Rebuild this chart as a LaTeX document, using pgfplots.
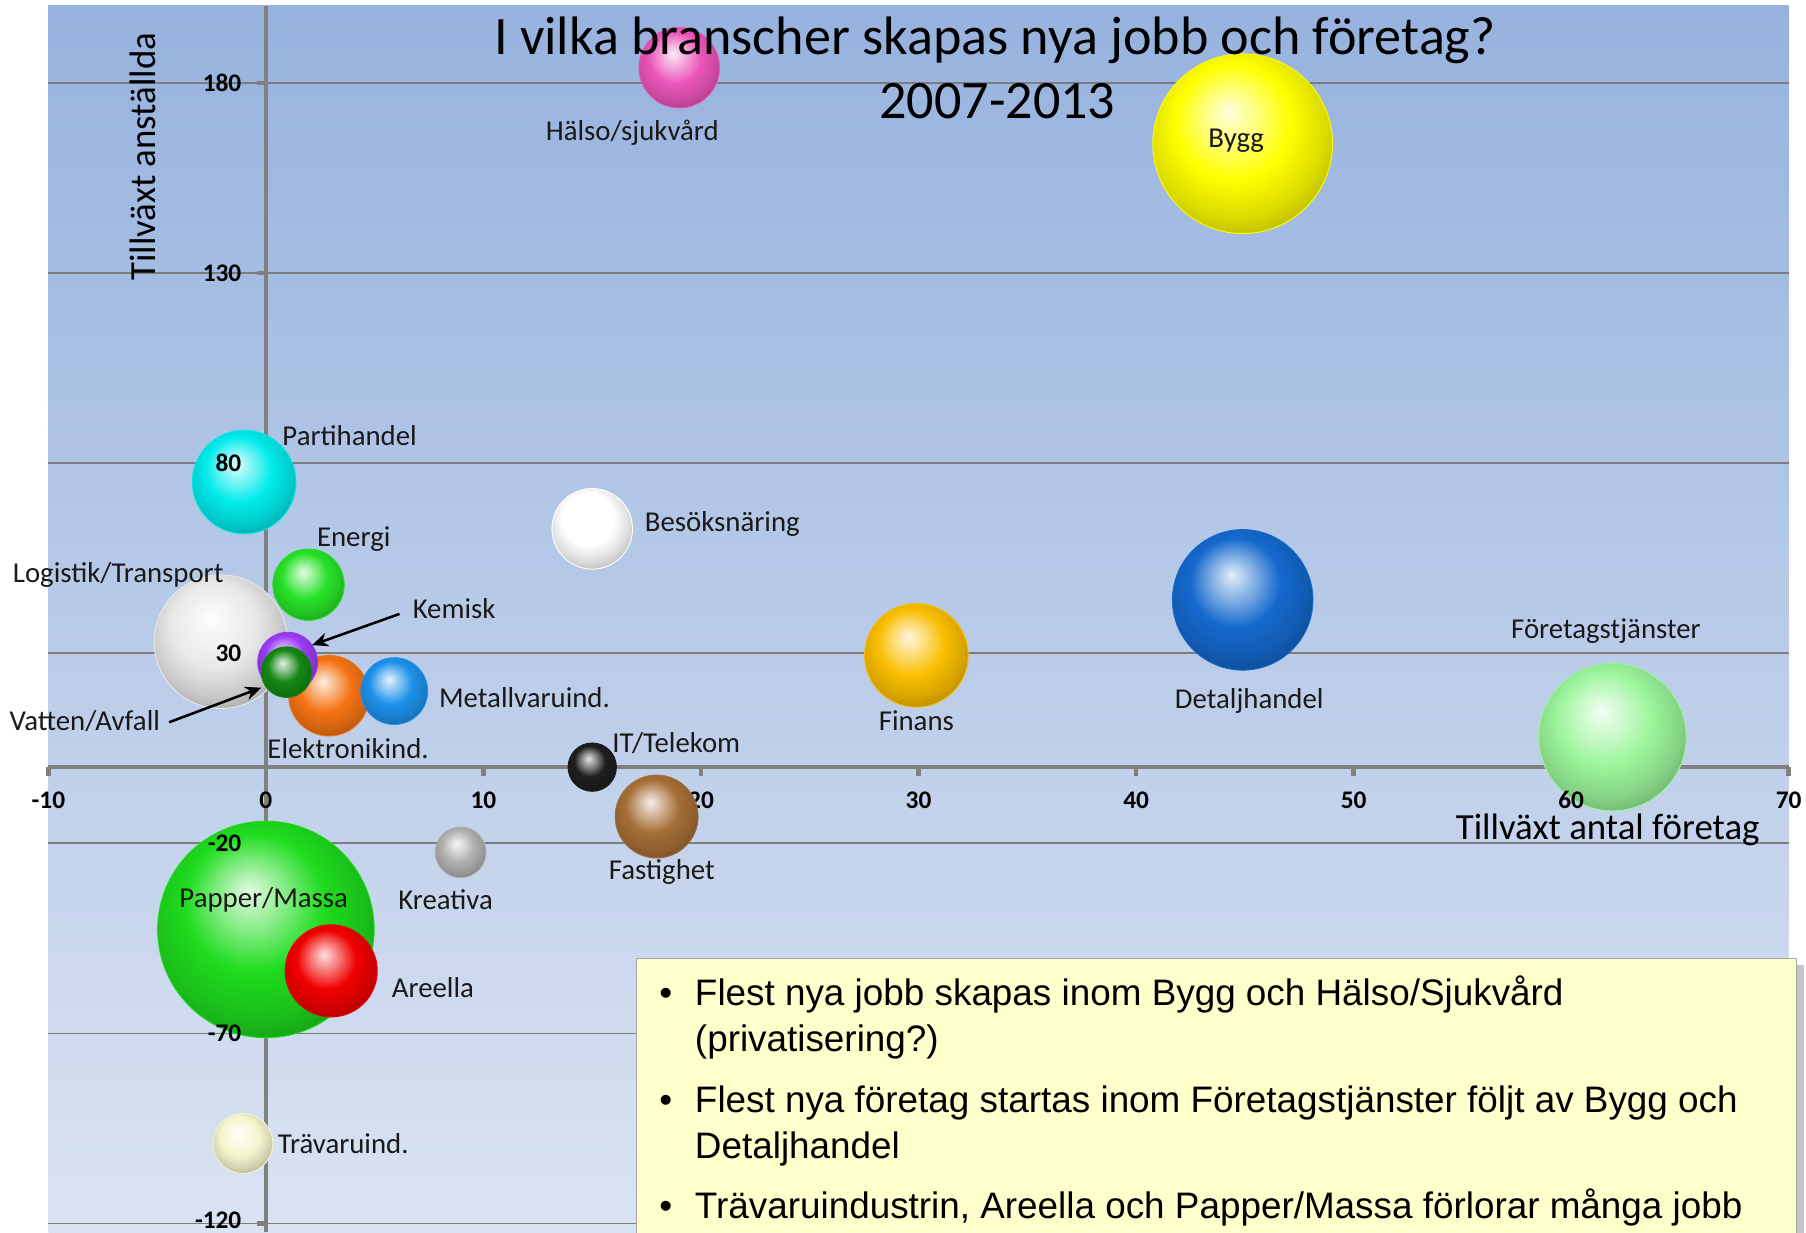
\documentclass[border=0pt]{standalone}
\usepackage{pgfplots}
\pgfplotsset{compat=1.18}
\usepackage{fontspec}
\setmainfont{Carlito}
\newfontfamily\arialf{Liberation Sans}
\usetikzlibrary{arrows.meta,shadows}

% glossy ball shading (closer to the spreadsheet bubbles)
\makeatletter
\pgfdeclareradialshading[tikz@ball]{ball}{\pgfqpoint{-4bp}{9bp}}{%
 color(0bp)=(tikz@ball!12!white);
 color(8bp)=(tikz@ball!55!white);
 color(16bp)=(tikz@ball);
 color(25bp)=(tikz@ball!86!black);
 color(33bp)=(tikz@ball!66!black);
 color(42bp)=(tikz@ball!52!black);
 color(50bp)=(tikz@ball!45!black)}
\makeatother

\definecolor{bgtop}{RGB}{150,178,222}
\definecolor{bgbot}{RGB}{218,227,242}
\definecolor{gridc}{RGB}{125,125,125}
\definecolor{axisc}{RGB}{128,128,128}
\definecolor{boxc}{RGB}{255,255,204}
\definecolor{cPapper}{RGB}{30,220,30}
\definecolor{cAreella}{RGB}{240,0,0}
\definecolor{cTra}{RGB}{245,245,205}
\definecolor{cKreativa}{RGB}{175,175,175}
\definecolor{cFast}{RGB}{165,110,55}
\definecolor{cIT}{RGB}{30,30,30}
\definecolor{cLog}{RGB}{232,232,232}
\definecolor{cElek}{RGB}{245,115,20}
\definecolor{cMetall}{RGB}{30,145,235}
\definecolor{cKemisk}{RGB}{155,60,245}
\definecolor{cVatten}{RGB}{20,135,20}
\definecolor{cEnergi}{RGB}{40,225,40}
\definecolor{cParti}{RGB}{0,235,235}
\definecolor{cBesok}{RGB}{255,255,255}
\definecolor{cFinans}{RGB}{250,190,0}
\definecolor{cDetalj}{RGB}{20,105,205}
\definecolor{cForetag}{RGB}{155,245,155}
\definecolor{cBygg}{RGB}{255,255,0}
\definecolor{cHalso}{RGB}{235,85,185}

% x, y, bubble radius (pt), colour
\newcommand{\bub}[4]{\addplot[only marks, mark=ball, mark size=#3pt, color=#4, mark options={ball color=#4, draw=none}] coordinates {(#1,#2)};}
\newcommand{\lbl}{\fontsize{12.5}{14}\selectfont}
\newcommand{\tkl}{\bfseries\fontsize{11}{13}\selectfont}

\begin{document}
\begin{tikzpicture}
\fill[white] (-21pt,0pt) rectangle (763pt,535pt);
\useasboundingbox (-21pt,0pt) rectangle (763pt,535pt);
\begin{axis}[
  at={(0pt,0pt)}, anchor=south west,
  scale only axis, width=755.5pt, height=532.5pt,
  xmin=-10, xmax=70, ymin=-122.4, ymax=200.3,
  axis lines=middle,
  axis line style={draw=axisc, line width=2pt, -},
  every inner x axis line/.append style={-},
  every inner y axis line/.append style={-},
  hide obscured x ticks=false,
  hide obscured y ticks=false,
  xtick={-10,0,10,20,30,40,50,60,70},
  xticklabels={-10,0,10,20,30,40,50,{},70},
  ytick={-120,-70,-20,30,80,130,180},
  yticklabels={},
  tick align=outside,
  major tick length=4pt,
  tick style={draw=axisc, line width=2pt},
  xticklabel style={font=\tkl, text=black, yshift=-3pt},
  ymajorgrids,
  grid style={draw=gridc, line width=0.6pt},
  axis background/.style={top color=bgtop, bottom color=bgbot},
  clip=false,
]
\bub{0}{-42.7}{47}{cPapper}
\bub{3.0}{-53.6}{20}{cAreella}
\bub{-1.06}{-99}{13}{cTra}
\bub{8.95}{-22.4}{11}{cKreativa}
\bub{17.96}{-13}{18}{cFast}
\bub{15.0}{0}{10.5}{cIT}
\bub{-2.07}{33}{29}{cLog}
\bub{2.9}{18.8}{17.5}{cElek}
\bub{5.9}{20}{14.5}{cMetall}
\bub{1.0}{27.6}{13}{cKemisk}
\bub{0.95}{25}{11}{cVatten}
\bub{1.96}{48}{15.5}{cEnergi}
\bub{-1.0}{75}{22.5}{cParti}
\bub{15.0}{62.7}{17.5}{cBesok}
\bub{29.9}{29.4}{22.5}{cFinans}
\bub{44.9}{44}{30.5}{cDetalj}
\bub{61.9}{7.9}{32}{cForetag}
\bub{44.9}{164}{39}{cBygg}
\bub{19.0}{184}{17.5}{cHalso}

% anchor points for the texts drawn above the bubbles
\coordinate (t180) at (axis cs:-1.11,180);
\coordinate (t130) at (axis cs:-1.11,130);
\coordinate (t80) at (axis cs:-1.11,80);
\coordinate (t30) at (axis cs:-1.11,30);
\coordinate (tm20) at (axis cs:-1.11,-20);
\coordinate (tm70) at (axis cs:-1.11,-70);
\coordinate (tm120) at (axis cs:-1.11,-119.2);
\coordinate (x60) at (axis cs:60,0);
\coordinate (lHalso) at (axis cs:16.84,167);
\coordinate (lBygg) at (axis cs:44.6,164.8);
\coordinate (lParti) at (axis cs:0.74,87.3);
\coordinate (lBesok) at (axis cs:17.4,63.9);
\coordinate (lEnergi) at (axis cs:2.33,60);
\coordinate (lLog) at (axis cs:-11.65,50.6);
\coordinate (lKemisk) at (axis cs:6.73,41.8);
\coordinate (lVatten) at (axis cs:-11.8,12.1);
\coordinate (lElek) at (axis cs:0.05,4.8);
\coordinate (lMetall) at (axis cs:7.94,18.2);
\coordinate (lIT) at (axis cs:15.9,6.4);
\coordinate (lFast) at (axis cs:18.2,-27.6);
\coordinate (lFinans) at (axis cs:29.9,12.1);
\coordinate (lDetalj) at (axis cs:45.2,17.3);
\coordinate (lForetag) at (axis cs:61.6,35.8);
\coordinate (lKreativa) at (axis cs:8.26,-34.8);
\coordinate (lPapper) at (axis cs:-0.1,-34.8);
\coordinate (lAreella) at (axis cs:5.77,-57.9);
\coordinate (lTra) at (axis cs:0.53,-99);
\coordinate (aK1) at (axis cs:6.14,40.3);
\coordinate (aK2) at (axis cs:2.12,32.1);
\coordinate (aV1) at (axis cs:-4.45,11.8);
\coordinate (aV2) at (axis cs:-0.21,20.9);
\coordinate (tit1) at (axis cs:33.51,187.6);
\coordinate (tit2) at (axis cs:33.62,170.6);
\coordinate (xlab) at (axis cs:61.68,-19.1);
\coordinate (ylab) at (axis cs:-5.67,160.6);
\end{axis}

% tick labels drawn above the bubbles
\begin{scope}[every node/.style={anchor=east, font=\tkl, inner sep=0pt}]
\node at (t180) {180};
\node at (t130) {130};
\node at (t80) {80};
\node at (t30) {30};
\node at (tm20) {-20};
\node at (tm70) {-70};
\node at (tm120) {-120};
\end{scope}
\node[anchor=north, font=\tkl, inner sep=0.333em, yshift=-7pt] at (x60) {60};

% bubble labels
\begin{scope}[every node/.style={font=\lbl, inner sep=0pt, text=black!90}]
\node[anchor=center] at (lHalso) {Hälso/sjukvård};
\node[anchor=center] at (lBygg) {Bygg};
\node[anchor=west] at (lParti) {Partihandel};
\node[anchor=west] at (lBesok) {Besöksnäring};
\node[anchor=west] at (lEnergi) {Energi};
\node[anchor=west] at (lLog) {Logistik/Transport};
\node[anchor=west] at (lKemisk) {Kemisk};
\node[anchor=west] at (lVatten) {Vatten/Avfall};
\node[anchor=west] at (lElek) {Elektronikind.};
\node[anchor=west] at (lMetall) {Metallvaruind.};
\node[anchor=west] at (lIT) {IT/Telekom};
\node[anchor=center] at (lFast) {Fastighet};
\node[anchor=center] at (lFinans) {Finans};
\node[anchor=center] at (lDetalj) {Detaljhandel};
\node[anchor=center] at (lForetag) {Företagstjänster};
\node[anchor=center] at (lKreativa) {Kreativa};
\node[anchor=center] at (lPapper) {Papper/Massa};
\node[anchor=west] at (lAreella) {Areella};
\node[anchor=west] at (lTra) {Trävaruind.};
\end{scope}
\draw[-{Stealth[length=7pt,width=6pt]}, line width=1.1pt, black] (aK1) -- (aK2);
\draw[-{Stealth[length=7pt,width=6pt]}, line width=1.1pt, black] (aV1) -- (aV2);

% titles
\node[anchor=base, font=\fontsize{23.5}{28}\selectfont, inner sep=0pt] at (tit1) {I vilka branscher skapas nya jobb och företag?};
\node[anchor=base, font=\fontsize{23.5}{28}\selectfont, inner sep=0pt] at (tit2) {2007-2013};
\node[anchor=base, font=\fontsize{16}{19}\selectfont, inner sep=0pt] at (xlab) {Tillväxt antal företag};
\node[rotate=90, anchor=center, font=\fontsize{16}{19}\selectfont, inner sep=0pt] at (ylab) {Tillväxt anställda};

% comment box
\draw[draw=gray!70, fill=boxc, drop shadow={shadow xshift=3pt, shadow yshift=-3pt, opacity=0.45}] (255.5pt,-5pt) rectangle (759pt,119pt);
\begin{scope}[every node/.style={font=\arialf\fontsize{16}{20}\selectfont, inner sep=0pt, anchor=base west}]
\node at (265pt,98.5pt) {•};
\node at (280.5pt,98.5pt) {Flest nya jobb skapas inom Bygg och Hälso/Sjukvård};
\node at (280.5pt,78.5pt) {(privatisering?)};
\node at (265pt,52pt) {•};
\node at (280.5pt,52pt) {Flest nya företag startas inom Företagstjänster följt av Bygg och};
\node at (280.5pt,32pt) {Detaljhandel};
\node at (265pt,6pt) {•};
\node at (280.5pt,6pt) {Trävaruindustrin, Areella och Papper/Massa förlorar många jobb};
\end{scope}
\end{tikzpicture}
\end{document}
